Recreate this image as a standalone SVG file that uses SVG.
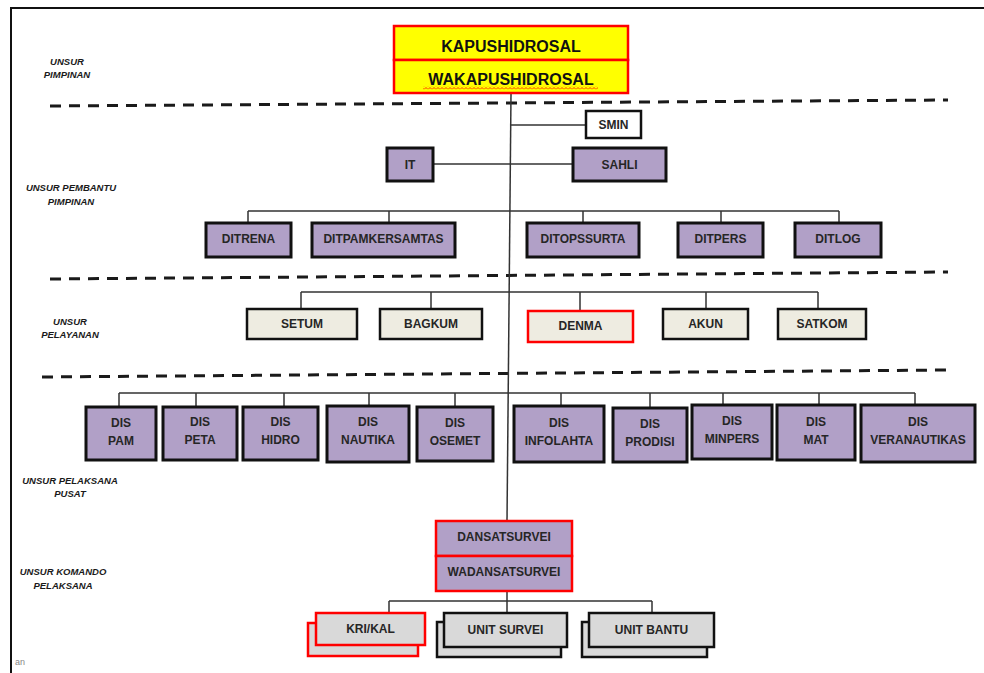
<svg xmlns="http://www.w3.org/2000/svg" width="984" height="673" viewBox="0 0 984 673">
<style>
  .frame{fill:none;stroke:#111;stroke-width:2}
  .dash{fill:none;stroke:#1a1a1a;stroke-width:3;stroke-dasharray:11 8}
  .conn{fill:none;stroke:#333;stroke-width:1.5}
  .pur{fill:#b1a0c7;stroke:#111;stroke-width:3}
  .purR{fill:#b1a0c7;stroke:#ff0000;stroke-width:2.5}
  .yel{fill:#ffff00;stroke:#ff0000;stroke-width:2.5}
  .wht{fill:#ffffff;stroke:#111;stroke-width:2.5}
  .bei{fill:#eeece1;stroke:#111;stroke-width:2.5}
  .beiR{fill:#eeece1;stroke:#ff0000;stroke-width:2.5}
  .gry{fill:#d9d9d9;stroke:#111;stroke-width:2.5}
  .gryR{fill:#d9d9d9;stroke:#ff0000;stroke-width:2.5}
  text{font-family:"Liberation Sans",Arial,sans-serif;fill:#262626}
  .t{font-size:12px;font-weight:bold;text-anchor:middle;dominant-baseline:central}
  .tb{font-size:16px;font-weight:bold;text-anchor:middle;dominant-baseline:central;fill:#111}
  .lbl{font-size:9.5px;font-weight:bold;font-style:italic;text-anchor:middle;dominant-baseline:central;fill:#1a1a1a}
</style>
<defs>
  <pattern id="wave" x="0" y="0" width="4" height="3" patternUnits="userSpaceOnUse">
    <path d="M0,2.5 L2,0.5 L4,2.5" fill="none" stroke="#ff0000" stroke-width="0.8"/>
  </pattern>
</defs>
<rect width="984" height="673" fill="#ffffff"/>
<path class="frame" d="M11,673 V8 H984"/>
<text x="15" y="665" style="font-size:9px;fill:#888">an</text>

<g id="labels">
  <text class="lbl" x="67" y="61">UNSUR</text>
  <text class="lbl" x="67" y="74">PIMPINAN</text>
  <text class="lbl" x="71" y="187">UNSUR PEMBANTU</text>
  <text class="lbl" x="71" y="201">PIMPINAN</text>
  <text class="lbl" x="70" y="321">UNSUR</text>
  <text class="lbl" x="70" y="334">PELAYANAN</text>
  <text class="lbl" x="70" y="480">UNSUR PELAKSANA</text>
  <text class="lbl" x="70" y="493">PUSAT</text>
  <text class="lbl" x="63" y="571">UNSUR  KOMANDO</text>
  <text class="lbl" x="63" y="585">PELAKSANA</text>
</g>

<g id="dividers">
  <path class="dash" d="M50,106 L948,100"/>
  <path class="dash" d="M50,279 L948,272"/>
  <path class="dash" d="M42,377 L948,370"/>
</g>

<g id="connectors">
  <path class="conn" d="M511,94 L507,521"/>
  <path class="conn" d="M510.6,125 H586"/>
  <path class="conn" d="M433,164 H573"/>
  <path class="conn" d="M248,211 H839 M248,211 V223 M389,211 V223 M583,211 V223 M721,211 V223 M839,211 V223"/>
  <path class="conn" d="M301,292 H818 M301,292 V309 M431,292 V309 M580,292 V310 M706,292 V309 M818,292 V309"/>
  <path class="conn" d="M119,393 H915 M119,393 V407 M196,393 V407 M284,393 V407 M369,393 V406 M455,393 V407 M561,393 V406 M650,393 V408 M723,393 V405 M819,393 V405 M915,393 V405"/>
  <path class="conn" d="M507,591 V613 M389,601 H652 M389,601 V613 M652,601 V613"/>
</g>

<g id="kapushidrosal">
  <rect class="yel" x="394" y="26" width="234" height="34"/>
  <text class="tb" x="511" y="46">KAPUSHIDROSAL</text>
</g>
<g id="wakapushidrosal">
  <rect class="yel" x="394" y="60" width="234" height="33"/>
  <text class="tb" x="511" y="79">WAKAPUSHIDROSAL</text>
  <rect x="423" y="86.5" width="175" height="3" fill="url(#wave)"/>
</g>

<g id="smin"><rect class="wht" x="586" y="111" width="55" height="27"/><text class="t" x="613.5" y="125">SMIN</text></g>
<g id="it"><rect class="pur" x="387" y="148" width="46" height="33"/><text class="t" x="410" y="164.5">IT</text></g>
<g id="sahli"><rect class="pur" x="573" y="148" width="93" height="33"/><text class="t" x="619.5" y="164.5">SAHLI</text></g>

<g id="ditrena"><rect class="pur" x="206" y="223" width="85" height="34"/><text class="t" x="248.5" y="239">DITRENA</text></g>
<g id="ditpamkersamtas"><rect class="pur" x="312" y="223" width="143" height="34"/><text class="t" x="383.5" y="239">DITPAMKERSAMTAS</text></g>
<g id="ditopssurta"><rect class="pur" x="527" y="223" width="112" height="34"/><text class="t" x="583" y="239">DITOPSSURTA</text></g>
<g id="ditpers"><rect class="pur" x="678" y="223" width="85" height="34"/><text class="t" x="720.5" y="239">DITPERS</text></g>
<g id="ditlog"><rect class="pur" x="795" y="223" width="86" height="34"/><text class="t" x="838" y="239">DITLOG</text></g>

<g id="setum"><rect class="bei" x="247" y="309" width="110" height="30"/><text class="t" x="302" y="324">SETUM</text></g>
<g id="bagkum"><rect class="bei" x="380" y="309" width="102" height="30"/><text class="t" x="431" y="324">BAGKUM</text></g>
<g id="denma"><rect class="beiR" x="528" y="311" width="105" height="31"/><text class="t" x="580.5" y="326">DENMA</text></g>
<g id="akun"><rect class="bei" x="663" y="309" width="85" height="30"/><text class="t" x="705.5" y="324">AKUN</text></g>
<g id="satkom"><rect class="bei" x="778" y="309" width="88" height="30"/><text class="t" x="822" y="324">SATKOM</text></g>

<g id="dis-pam"><rect class="pur" x="86" y="407" width="70" height="53"/><text class="t" x="121" y="423">DIS</text><text class="t" x="121" y="441">PAM</text></g>
<g id="dis-peta"><rect class="pur" x="163" y="407" width="74" height="53"/><text class="t" x="200" y="422">DIS</text><text class="t" x="200" y="440">PETA</text></g>
<g id="dis-hidro"><rect class="pur" x="243" y="407" width="75" height="53"/><text class="t" x="280.5" y="422">DIS</text><text class="t" x="280.5" y="440">HIDRO</text></g>
<g id="dis-nautika"><rect class="pur" x="327" y="406" width="82" height="56"/><text class="t" x="368" y="422">DIS</text><text class="t" x="368" y="440">NAUTIKA</text></g>
<g id="dis-osemet"><rect class="pur" x="417" y="407" width="76" height="54"/><text class="t" x="455" y="423">DIS</text><text class="t" x="455" y="441">OSEMET</text></g>
<g id="dis-infolahta"><rect class="pur" x="514" y="406" width="90" height="56"/><text class="t" x="559" y="423">DIS</text><text class="t" x="559" y="441">INFOLAHTA</text></g>
<g id="dis-prodisi"><rect class="pur" x="613" y="408" width="74" height="54"/><text class="t" x="650" y="424">DIS</text><text class="t" x="650" y="442">PRODISI</text></g>
<g id="dis-minpers"><rect class="pur" x="692" y="405" width="80" height="54"/><text class="t" x="732" y="421">DIS</text><text class="t" x="732" y="439">MINPERS</text></g>
<g id="dis-mat"><rect class="pur" x="777" y="405" width="78" height="55"/><text class="t" x="816" y="422">DIS</text><text class="t" x="816" y="440">MAT</text></g>
<g id="dis-veranautikas"><rect class="pur" x="861" y="405" width="114" height="57"/><text class="t" x="918" y="422">DIS</text><text class="t" x="918" y="440">VERANAUTIKAS</text></g>

<g id="dansatsurvei"><rect class="purR" x="436" y="521" width="136" height="35"/><text class="t" x="504" y="537">DANSATSURVEI</text></g>
<g id="wadansatsurvei"><rect class="purR" x="436" y="556" width="136" height="35"/><text class="t" x="504" y="572">WADANSATSURVEI</text></g>

<g id="kri-kal">
  <rect class="gryR" x="308" y="623" width="110" height="33"/>
  <rect class="gryR" x="316" y="613" width="109" height="32"/>
  <text class="t" x="370.5" y="629">KRI/KAL</text>
</g>
<g id="unit-survei">
  <rect class="gry" x="437" y="622" width="124" height="35"/>
  <rect class="gry" x="444" y="613" width="123" height="34"/>
  <text class="t" x="505.5" y="630">UNIT SURVEI</text>
</g>
<g id="unit-bantu">
  <rect class="gry" x="582" y="622" width="125" height="35"/>
  <rect class="gry" x="589" y="613" width="125" height="34"/>
  <text class="t" x="651.5" y="630">UNIT BANTU</text>
</g>
</svg>
